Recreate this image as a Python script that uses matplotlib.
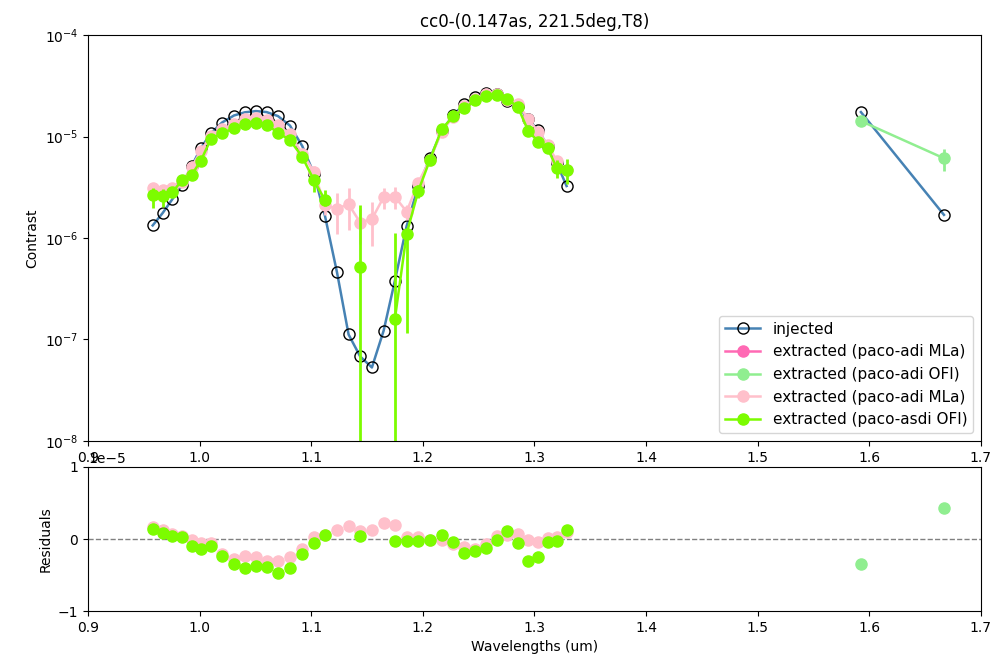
import numpy as np
import matplotlib
matplotlib.use('Agg')
import matplotlib.pyplot as plt

# IFS channels + IRDIS filters (um)
wl_ifs = [0.9580, 0.9669, 0.9755, 0.9845, 0.9929, 1.0012, 1.0102, 1.0200, 1.0308, 1.0404,
          1.0505, 1.0601, 1.0702, 1.0810, 1.0920, 1.1025, 1.1123, 1.1231, 1.1335, 1.1439,
          1.1544, 1.1649, 1.1750, 1.1855, 1.1959, 1.2064, 1.2169, 1.2273, 1.2373, 1.2467,
          1.2568, 1.2667, 1.2758, 1.2852, 1.2945, 1.3034, 1.3118, 1.3199, 1.3288]
wl_ird = [1.5925, 1.6669]

# injected contrast
inj_ifs = [1.33e-6, 1.76e-6, 2.40e-6, 3.33e-6, 5.1e-6, 7.7e-6, 1.08e-5, 1.37e-5, 1.61e-5, 1.73e-5,
           1.78e-5, 1.74e-5, 1.59e-5, 1.28e-5, 8.05e-6, 4.3e-6, 1.66e-6, 4.6e-7, 1.12e-7, 6.8e-8,
           5.3e-8, 1.22e-7, 3.8e-7, 1.31e-6, 3.25e-6, 6.1e-6, 1.13e-5, 1.63e-5, 2.09e-5, 2.45e-5,
           2.68e-5, 2.6e-5, 2.25e-5, 2.0e-5, 1.48e-5, 1.15e-5, 8.1e-6, 5.5e-6, 3.25e-6]
inj_ird = [1.74e-5, 1.69e-6]

# extracted, paco-adi MLa (IFS)
mla_ifs = [3.1e-6, 3.0e-6, 3.1e-6, 3.6e-6, 5.0e-6, 7.2e-6, 1.02e-5, 1.18e-5, 1.33e-5, 1.5e-5,
           1.53e-5, 1.46e-5, 1.3e-5, 1.05e-5, 6.8e-6, 4.5e-6, 2.1e-6, 1.95e-6, 2.15e-6, 1.42e-6,
           1.54e-6, 2.52e-6, 2.55e-6, 1.82e-6, 3.5e-6, 5.9e-6, 1.12e-5, 1.57e-5, 1.98e-5, 2.32e-5,
           2.6e-5, 2.62e-5, 2.3e-5, 2.1e-5, 1.48e-5, 1.12e-5, 8.3e-6, 5.8e-6, 4.7e-6]
mla_err = [0.35e-6, 0.35e-6, 0.3e-6, 0.3e-6, 0.3e-6, 0.3e-6, 0.4e-6, 0.4e-6, 0.4e-6, 0.5e-6,
           0.5e-6, 0.5e-6, 0.5e-6, 0.5e-6, 0.5e-6, 0.6e-6, 0.4e-6, 0.85e-6, 0.95e-6, 0.55e-6,
           0.7e-6, 0.6e-6, 0.6e-6, 0.3e-6, 0.4e-6, 0.4e-6, 0.5e-6, 0.5e-6, 0.5e-6, 0.5e-6,
           0.6e-6, 0.6e-6, 0.6e-6, 0.6e-6, 0.6e-6, 0.6e-6, 0.5e-6, 0.5e-6, 0.6e-6]

# extracted, paco-asdi OFI (IFS)
nan = np.nan
asdi_ifs = [2.65e-6, 2.62e-6, 2.81e-6, 3.73e-6, 4.18e-6, 5.8e-6, 9.45e-6, 1.08e-5, 1.2e-5, 1.32e-5,
            1.37e-5, 1.31e-5, 1.09e-5, 9.2e-6, 6.3e-6, 3.7e-6, 2.37e-6, nan, nan, 5.2e-7,
            nan, nan, 1.6e-7, 1.1e-6, 2.9e-6, 5.9e-6, 1.18e-5, 1.58e-5, 1.89e-5, 2.27e-5,
            2.5e-5, 2.57e-5, 2.35e-5, 1.95e-5, 1.13e-5, 8.9e-6, 7.65e-6, 4.93e-6, 4.68e-6]
asdi_lo = [0.67e-6, 0.6e-6, 0.3e-6, 0.3e-6, 0.3e-6, 0.3e-6, 0.4e-6, 0.4e-6, 0.4e-6, 0.5e-6,
           0.5e-6, 0.5e-6, 0.5e-6, 0.5e-6, 0.5e-6, 0.86e-6, 0.3e-6, nan, nan, 1.59e-6,
           nan, nan, 0.97e-6, 0.985e-6, 0.4e-6, 0.3e-6, 0.4e-6, 0.4e-6, 0.5e-6, 0.5e-6,
           0.5e-6, 0.5e-6, 0.5e-6, 0.5e-6, 0.5e-6, 0.5e-6, 0.5e-6, 1.0e-6, 1.3e-6]
asdi_hi = [0.45e-6, 0.4e-6, 0.3e-6, 0.3e-6, 0.3e-6, 0.3e-6, 0.4e-6, 0.4e-6, 0.4e-6, 0.5e-6,
           0.5e-6, 0.5e-6, 0.5e-6, 0.5e-6, 0.5e-6, 0.5e-6, 0.6e-6, nan, nan, 1.59e-6,
           nan, nan, 0.97e-6, 0.05e-6, 0.4e-6, 0.3e-6, 0.4e-6, 0.4e-6, 0.5e-6, 0.5e-6,
           0.5e-6, 0.5e-6, 0.5e-6, 0.5e-6, 0.5e-6, 0.5e-6, 0.5e-6, 1.0e-6, 1.3e-6]

# extracted, paco-adi OFI (IRDIS)
ofi_ird = [1.42e-5, 6.1e-6]
ofi_ird_err = [0.3e-6, 1.5e-6]

# residuals (extracted - injected), in units of 1e-5
res_mla = [0.16, 0.12, 0.07, 0.04, -0.01, -0.06, -0.06, -0.21, -0.28, -0.23,
           -0.25, -0.30, -0.31, -0.25, -0.14, 0.03, 0.06, 0.125, 0.185, 0.115,
           0.125, 0.22, 0.20, 0.03, 0.03, -0.02, -0.01, -0.07, -0.11, -0.14,
           -0.07, 0.04, 0.05, 0.07, -0.02, -0.04, 0.02, 0.03, 0.10]
res_asdi = [0.14, 0.09, 0.04, 0.03, -0.10, -0.14, -0.10, -0.23, -0.35, -0.40,
            -0.37, -0.39, -0.47, -0.40, -0.21, -0.06, 0.06, nan, nan, 0.04,
            nan, nan, -0.03, -0.03, -0.03, -0.02, 0.05, -0.04, -0.19, -0.17,
            -0.13, -0.01, 0.11, -0.05, -0.31, -0.25, -0.04, -0.03, 0.13]
res_ofi_ird = [-0.35, 0.43]

scale = 1e-5

fig = plt.figure(figsize=(10.04, 6.58), dpi=100)
ax = fig.add_axes([0.0876, 0.3298, 0.8894, 0.617])
axr = fig.add_axes([0.0876, 0.0714, 0.8894, 0.2189])

ms = 8
# top panel
ax.plot(wl_ifs, inj_ifs, '-o', color='steelblue', mec='black', mfc='none', ms=ms, lw=1.8, label='injected')
ax.plot(wl_ird, inj_ird, '-o', color='steelblue', mec='black', mfc='none', ms=ms, lw=1.8)
ax.plot([], [], '-o', color='hotpink', ms=ms, lw=1.8, label='extracted (paco-adi MLa)')
ax.errorbar(wl_ird, ofi_ird, yerr=ofi_ird_err, fmt='none', ecolor='lightgreen', elinewidth=2)
ax.plot(wl_ird, ofi_ird, '-o', color='lightgreen', ms=ms, lw=1.8, label='extracted (paco-adi OFI)')
ax.errorbar(wl_ifs, mla_ifs, yerr=mla_err, fmt='none', ecolor='pink', elinewidth=2)
ax.plot(wl_ifs, mla_ifs, '-o', color='pink', ms=ms, lw=1.8, label='extracted (paco-adi MLa)')
ax.errorbar(wl_ifs, asdi_ifs, yerr=[asdi_lo, asdi_hi], fmt='none', ecolor='lawngreen', elinewidth=2)
ax.plot(wl_ifs, asdi_ifs, '-o', color='lawngreen', ms=ms, lw=1.8, label='extracted (paco-asdi OFI)')

ax.set_yscale('log')
ax.set_ylim(1e-8, 1e-4)
ax.set_xlim(0.9, 1.7)
ax.minorticks_off()
ax.set_ylabel('Contrast')
ax.set_title('cc0-(0.147as, 221.5deg,T8)', fontsize=12)
ax.legend(loc='lower right', fontsize=11, handlelength=2.3)

# residuals
axr.axhline(0, color='gray', ls='--', lw=1)
axr.plot(wl_ifs, np.array(res_mla) * scale, 'o', color='pink', ms=ms)
axr.plot(wl_ifs, np.array(res_asdi) * scale, 'o', color='lawngreen', ms=ms)
axr.plot(wl_ird, np.array(res_ofi_ird) * scale, 'o', color='lightgreen', ms=ms)
axr.set_ylim(-1e-5, 1e-5)
axr.set_yticks([-1e-5, 0, 1e-5])
axr.set_xlim(0.9, 1.7)
axr.set_ylabel('Residuals')
axr.set_xlabel('Wavelengths (um)')

fig.savefig('out.png', dpi=100)
